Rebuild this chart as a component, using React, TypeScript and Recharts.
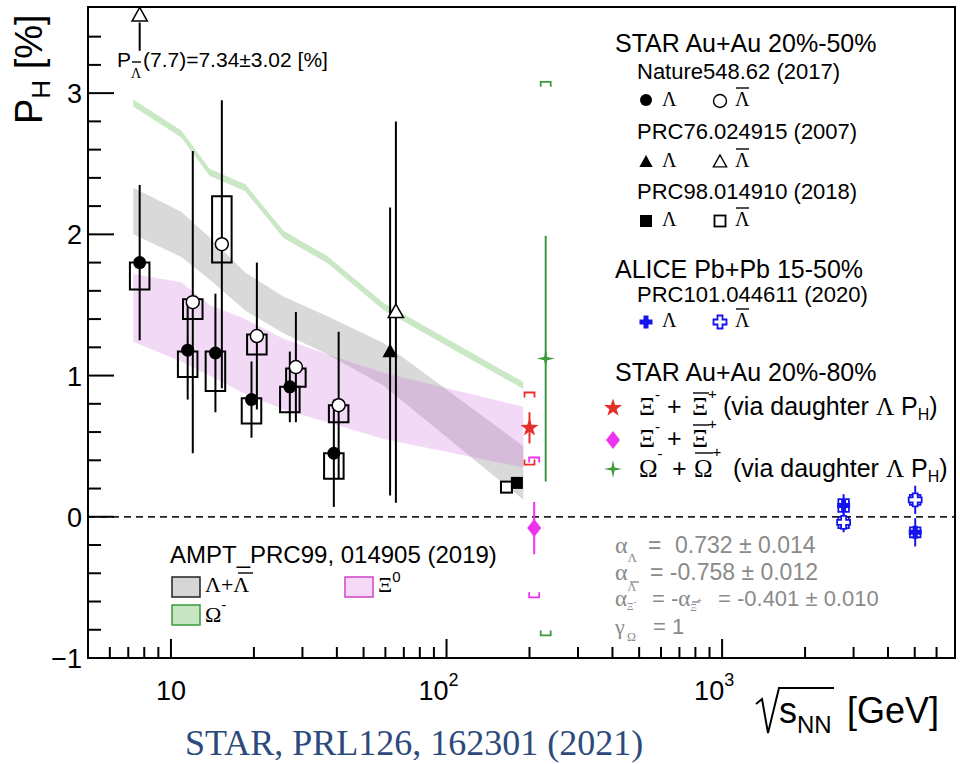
import React from "react";
import {
  ComposedChart,
  Area,
  Scatter,
  ErrorBar,
  XAxis,
  YAxis,
  ReferenceArea,
  ReferenceLine,
} from "recharts";

const W = 960;
const H = 764;
const SANS = "'Liberation Sans', Arial, Helvetica, sans-serif";
const SERIF = "'Liberation Serif', 'Times New Roman', serif";

// AMPT PRC99 bands (drawn slightly left of the STAR energies)
const amptEnergy = [7.3, 10.9, 13.8, 18.6, 25.6, 37, 59, 190];
const amptLamLo = [2.0, 1.84, 1.68, 1.46, 1.3, 1.15, 0.93, 0.12];
const amptLamHi = [2.33, 2.16, 1.98, 1.73, 1.56, 1.42, 1.23, 0.5];
const amptXiLo = [1.24, 1.1, 1.0, 0.87, 0.76, 0.67, 0.55, 0.35];
const amptXiHi = [1.72, 1.66, 1.5, 1.4, 1.26, 1.15, 1.02, 0.78];
const amptOmLo = [2.905, 2.685, 2.415, 2.305, 1.975, 1.795, 1.465, 0.905];
const amptOmHi = [2.955, 2.735, 2.465, 2.355, 2.025, 1.845, 1.515, 0.955];

// STAR Nature 548, 62 (2017)
const lamEnergy = [7.7, 11.5, 14.5, 19.6, 27, 39];
const lamP = [1.8, 1.18, 1.16, 0.83, 0.92, 0.45];
const lamErr = [0.55, 0.35, 0.42, 0.27, 0.25, 0.38];
const lamSysLo = [1.61, 0.99, 0.89, 0.66, 0.74, 0.27];
const lamSysHi = [1.8, 1.17, 1.17, 0.84, 0.92, 0.45];

const alamEnergy = [12.0, 15.3, 20.5, 28.4, 40.6];
const alamP = [1.52, 1.93, 1.28, 1.06, 0.79];
const alamErr = [1.07, 1.02, 0.52, 0.39, 0.52];
const alamSysLo = [1.4, 1.8, 1.15, 0.92, 0.67];
const alamSysHi = [1.54, 2.27, 1.29, 1.05, 0.79];

// STAR PRC76 (2007)
const prc76LamEnergy = [62.4];
const prc76LamP = [1.17];
const prc76LamErr = [1.02];
const prc76AlamEnergy = [65.5];
const prc76AlamP = [1.45];
const prc76AlamErr = [1.35];
// off-scale anti-Lambda at 7.7 GeV: arrow from 3.3 up to the frame
const offEnergy = [7.7];
const offArrowFrom = [3.3];
const offArrowTo = [3.5];
const offMarker = [3.55];

// STAR PRC98 (2018)
const prc98LamEnergy = [180];
const prc98LamP = [0.24];
const prc98AlamEnergy = [165];
const prc98AlamP = [0.21];

// STAR 20-80% multi-strange
const xiDauEnergy = [200];
const xiDauP = [0.63];
const xiDauErr = [0.11];
const xiDauSysLo = [0.37];
const xiDauSysHi = [0.88];

const xiEnergy = [208];
const xiP = [-0.08];
const xiErr = [0.185];
const xiSysLo = [-0.57];
const xiSysHi = [0.42];

const omEnergy = [229];
const omP = [1.12];
const omErr = [0.87];
const omSysLo = [-0.84];
const omSysHi = [3.08];

// ALICE PRC101 (2020)
const aliceEnergy = [2760, 5020];
const aliceLamP = [0.08, -0.11];
const aliceLamErr = [0.08, 0.1];
const aliceLamSys = [0.045, 0.035];
const aliceAlamP = [-0.04, 0.12];
const aliceAlamErr = [0.07, 0.1];
const aliceAlamSys = [0.04, 0.035];

// axes
const yTicks = [-1, -0.8, -0.6, -0.4, -0.2, 0, 0.2, 0.4, 0.6, 0.8, 1, 1.2, 1.4, 1.6, 1.8, 2, 2.2, 2.4, 2.6, 2.8, 3, 3.2, 3.4];
const xTicks = [6, 7, 8, 9, 10, 20, 30, 40, 50, 60, 70, 80, 90, 100, 200, 300, 400, 500, 600, 700, 800, 900, 1000, 2000, 3000, 4000, 5000, 6000];
const xMajor = [10, 100, 1000];
const xMajorBase = ["10", "10", "10"];
const xMajorExp = ["", "2", "3"];

const amptRows = amptEnergy.map((s, i) => ({
  s,
  lam: [amptLamLo[i], amptLamHi[i]],
  xi: [amptXiLo[i], amptXiHi[i]],
  om: [amptOmLo[i], amptOmHi[i]],
}));

const pts = (s: number[], p: number[], e: number[] = []) =>
  s.map((x, i) => ({ s: x, p: p[i], e: e[i] ?? 0 }));

const BOX = 1.085;
const ABOX = 1.045;
const Y_MARGIN = 8;

const mk = (draw: (x: number, y: number) => React.ReactElement) => (p: any) =>
  p.cx == null || p.cy == null ? <g /> : draw(p.cx, p.cy);

const blank = () => <g />;
const filledCircle = mk((x, y) => <circle cx={x} cy={y} r={6.5} fill="#000" />);
const openCircle = mk((x, y) => <circle cx={x} cy={y} r={6.5} fill="#fff" stroke="#000" strokeWidth={1.5} />);
const triPath = (x: number, y: number, r: number) => `M${x},${y - r} L${x + r * 0.95},${y + r * 0.7} L${x - r * 0.95},${y + r * 0.7} Z`;
const filledTri = mk((x, y) => <path d={triPath(x, y, 8)} fill="#000" />);
const openTri = mk((x, y) => <path d={triPath(x, y, 8)} fill="#fff" stroke="#000" strokeWidth={1.5} />);
const filledSquare = mk((x, y) => <rect x={x - 6} y={y - 6} width={12} height={12} fill="#000" />);
const openSquare = mk((x, y) => <rect x={x - 5.5} y={y - 5.5} width={11} height={11} fill="#fff" stroke="#000" strokeWidth={2} />);

const starPath = (x: number, y: number, n: number, R: number, r: number) => {
  let d = "";
  for (let k = 0; k < 2 * n; k++) {
    const rad = k % 2 === 0 ? R : r;
    const a = -Math.PI / 2 + (k * Math.PI) / n;
    d += `${k === 0 ? "M" : "L"}${x + rad * Math.cos(a)},${y + rad * Math.sin(a)} `;
  }
  return d + "Z";
};
const redStar = mk((x, y) => <path d={starPath(x, y, 5, 9.5, 3.8)} fill="#e8302a" />);
const greenStar = mk((x, y) => <path d={starPath(x, y, 4, 9, 2.2)} fill="#3d9a3d" />);
const diamond = mk((x, y) => <path d={`M${x},${y - 9} L${x + 7},${y} L${x},${y + 9} L${x - 7},${y} Z`} fill="#ee33ee" />);
const crossPath = (x: number, y: number, a: number, t: number) =>
  `M${x - t},${y - a} H${x + t} V${y - t} H${x + a} V${y + t} H${x + t} V${y + a} H${x - t} V${y + t} H${x - a} V${y - t} H${x - t} Z`;
const blueCross = mk((x, y) => <path d={crossPath(x, y, 6.5, 2.5)} fill="#1414ee" />);
const blueOpenCross = mk((x, y) => <path d={crossPath(x, y, 6.5, 2.5)} fill="#fff" stroke="#1414ee" strokeWidth={1.8} />);
const bracket = (color: string, up: boolean) =>
  mk((x, y) => (
    <path
      d={up ? `M${x - 5},${y + 5} V${y} H${x + 5} V${y + 5}` : `M${x - 5},${y - 5} V${y} H${x + 5} V${y - 5}`}
      fill="none"
      stroke={color}
      strokeWidth={1.8}
    />
  ));

const YTick = (props: any) => {
  const { x, y, payload } = props;
  const v = payload.value;
  const major = Number.isInteger(v);
  const x0 = x + Y_MARGIN;
  return (
    <g>
      <line x1={x0} x2={x0 + (major ? 26 : 13)} y1={y} y2={y} stroke="#000" strokeWidth={2} />
      {major && (
        <text x={x0 - 6} y={y + 10} textAnchor="end" fontFamily={SANS} fontSize={27} fill="#000">
          {v < 0 ? `\u2212${-v}` : v}
        </text>
      )}
    </g>
  );
};

const XTick = (props: any) => {
  const { x, y, payload } = props;
  const v = payload.value;
  const idx = xMajor.indexOf(v);
  const major = idx >= 0;
  return (
    <g>
      <line x1={x} x2={x} y1={y} y2={y - (major ? 19 : 11)} stroke="#000" strokeWidth={2} />
      {major && xMajorExp[idx] === "" && (
        <text x={x} y={y + 42} textAnchor="middle" fontFamily={SANS} fontSize={27} fill="#000">
          {xMajorBase[idx]}
        </text>
      )}
      {major && xMajorExp[idx] !== "" && (
        <text x={x - 28} y={y + 42} fontFamily={SANS} fontSize={27} fill="#000">
          {xMajorBase[idx]}
          <tspan fontSize={18} dy={-14}>{xMajorExp[idx]}</tspan>
        </text>
      )}
    </g>
  );
};

// overbar for anti-particles
const OB = ({ x, y, w, color = "#000" }: any) => (
  <line x1={x} x2={x + w} y1={y} y2={y} stroke={color} strokeWidth={1.4} />
);

function Overlay() {
  const g = "#8a8a8a";
  return (
    <svg width={W} height={H} style={{ position: "absolute", left: 0, top: 0, pointerEvents: "none" }}>
      <rect x={88} y={7} width={867} height={651} fill="none" stroke="#000" strokeWidth={2} />

      {/* y title */}
      <text transform="translate(42,124) rotate(-90)" fontFamily={SANS} fontSize={38} fill="#000">
        P<tspan fontSize={26} dy={8}>H</tspan>
        <tspan dy={-8}> [%]</tspan>
      </text>

      {/* x title */}
      <path d="M756,704 L762,699 L768,733 L779,688 L834,688" fill="none" stroke="#000" strokeWidth={2} />
      <text x={779} y={723} fontFamily={SANS} fontSize={36} fill="#000">
        s<tspan fontSize={24} dy={10}>NN</tspan>
        <tspan x={847} dy={-10}>[GeV]</tspan>
      </text>

      {/* off-scale note */}
      <text x={117} y={67} fontFamily={SANS} fontSize={21} fill="#000">
        P<tspan fontFamily={SERIF} fontSize={14} dy={11}>Λ</tspan>
        <tspan x={143} dy={-11}>(7.7)=7.34±3.02 [%]</tspan>
      </text>
      <OB x={132} y={62} w={9} />

      {/* legend: STAR 20-50% */}
      <g fontFamily={SANS} fill="#000">
        <text x={615} y={52} fontSize={25}>STAR Au+Au 20%-50%</text>
        <text x={637} y={79} fontSize={22}>Nature548.62 (2017)</text>
        <text x={637} y={139} fontSize={22}>PRC76.024915 (2007)</text>
        <text x={637} y={199} fontSize={22}>PRC98.014910 (2018)</text>
        <text x={615} y={278} fontSize={25}>ALICE Pb+Pb 15-50%</text>
        <text x={637} y={302} fontSize={22}>PRC101.044611 (2020)</text>
        <text x={615} y={381} fontSize={25}>STAR Au+Au 20%-80%</text>
      </g>
      <g fontFamily={SERIF} fontSize={20} fill="#000">
        <circle cx={646} cy={100} r={6} fill="#000" />
        <text x={662} y={106}>Λ<tspan x={735}>Λ</tspan></text>
        <circle cx={720} cy={101} r={6.5} fill="none" stroke="#000" strokeWidth={1.4} />
        <OB x={736} y={88} w={13} />

        <path d={triPath(646, 162, 7)} fill="#000" />
        <text x={662} y={167}>Λ<tspan x={735}>Λ</tspan></text>
        <path d={triPath(720, 162, 7)} fill="none" stroke="#000" strokeWidth={1.4} />
        <OB x={736} y={149} w={13} />

        <rect x={640} y={215} width={12} height={12} fill="#000" />
        <text x={662} y={226}>Λ<tspan x={735}>Λ</tspan></text>
        <rect x={714.5} y={215.5} width={11} height={11} fill="none" stroke="#000" strokeWidth={1.8} />
        <OB x={736} y={208} w={13} />

        <path d={crossPath(646, 322, 6.5, 2.5)} fill="#1414ee" />
        <text x={662} y={327}>Λ<tspan x={735}>Λ</tspan></text>
        <path d={crossPath(720, 322, 6.5, 2.5)} fill="#fff" stroke="#1414ee" strokeWidth={1.8} />
        <OB x={736} y={309} w={13} />
      </g>

      {/* STAR 20-80% rows */}
      <path d={starPath(613, 408, 5, 9.5, 3.8)} fill="#e8302a" />
      <text x={639} y={415} fontFamily={SERIF} fontSize={25} fill="#000">
        Ξ<tspan fontFamily={SANS} fontSize={15} dy={-15}>-</tspan>
        <tspan x={667} dy={15} fontFamily={SANS}>+</tspan>
        <tspan x={692}>Ξ</tspan>
        <tspan fontFamily={SANS} fontSize={15} dy={-16}>+</tspan>
        <tspan x={723} dy={16} fontFamily={SANS}>(via daughter </tspan>
        <tspan>Λ</tspan>
        <tspan fontFamily={SANS}> P</tspan>
        <tspan fontFamily={SANS} fontSize={16} dy={5}>H</tspan>
        <tspan fontFamily={SANS} dy={-5}>)</tspan>
      </text>
      <OB x={693} y={393} w={16} />

      <path d="M613,431 L620,440 L613,449 L606,440 Z" fill="#ee33ee" />
      <text x={639} y={447} fontFamily={SERIF} fontSize={25} fill="#000">
        Ξ<tspan fontFamily={SANS} fontSize={15} dy={-15}>-</tspan>
        <tspan x={667} dy={15} fontFamily={SANS}>+</tspan>
        <tspan x={692}>Ξ</tspan>
        <tspan fontFamily={SANS} fontSize={15} dy={-18}>+</tspan>
      </text>
      <OB x={693} y={425} w={16} />

      <path d={starPath(613, 469, 4, 9, 2.2)} fill="#3d9a3d" />
      <text x={639} y={477} fontFamily={SERIF} fontSize={25} fill="#000">
        Ω<tspan fontFamily={SANS} fontSize={15} dy={-18}>-</tspan>
        <tspan x={672} dy={18} fontFamily={SANS}>+</tspan>
        <tspan x={694}>Ω</tspan>
        <tspan fontFamily={SANS} fontSize={15} dy={-20}>+</tspan>
        <tspan x={733} dy={20} fontFamily={SANS}>(via daughter </tspan>
        <tspan>Λ</tspan>
        <tspan fontFamily={SANS}> P</tspan>
        <tspan fontFamily={SANS} fontSize={16} dy={5}>H</tspan>
        <tspan fontFamily={SANS} dy={-5}>)</tspan>
      </text>
      <OB x={695} y={453} w={18} />

      {/* decay parameters */}
      <g fill={g}>
        <text x={615} y={553} fontFamily={SERIF} fontSize={24}>
          α<tspan fontSize={13} dy={9}>Λ</tspan>
          <tspan x={648} dy={-9} fontFamily={SANS} fontSize={23}>=</tspan>
          <tspan x={675} fontFamily={SANS} fontSize={23}>0.732 ± 0.014</tspan>
        </text>
        <text x={615} y={580} fontFamily={SERIF} fontSize={24}>
          α<tspan fontSize={12} dy={11}>Λ</tspan>
          <tspan x={650} dy={-11} fontFamily={SANS} fontSize={23}>= -0.758 ± 0.012</tspan>
        </text>
        <OB x={630} y={582} w={9} color={g} />
        <text x={615} y={606} fontFamily={SERIF} fontSize={23}>
          α<tspan fontSize={10} dy={4}>Ξ</tspan>
          <tspan fontFamily={SANS} fontSize={9} dy={-5}>-</tspan>
          <tspan x={652} dy={1} fontFamily={SANS} fontSize={22}>= -</tspan>
          <tspan>α</tspan>
          <tspan fontSize={10} dy={5}>Ξ</tspan>
          <tspan fontFamily={SANS} fontSize={9} dy={-7}>+</tspan>
          <tspan x={718} dy={2} fontFamily={SANS} fontSize={22}>= -0.401 ± 0.010</tspan>
        </text>
        <OB x={692} y={602} w={7} color={g} />
        <text x={615} y={634} fontFamily={SERIF} fontSize={22}>
          γ<tspan x={627} fontSize={12} dy={7}>Ω</tspan>
          <tspan x={653} dy={-7} fontFamily={SANS} fontSize={22}>= 1</tspan>
        </text>
      </g>

      {/* AMPT legend */}
      <text x={170} y={563} fontFamily={SANS} fontSize={24} fill="#000">AMPT_PRC99, 014905 (2019)</text>
      <rect x={172} y={577} width={28} height={20} fill="#d6d6d6" stroke="#222" strokeWidth={1.5} />
      <text x={205} y={592} fontFamily={SERIF} fontSize={22} fill="#000">Λ+Λ</text>
      <OB x={238} y={573} w={15} />
      <rect x={345} y={577} width={28} height={20} fill="#f5d9f7" stroke="#cc44cc" strokeWidth={1.5} />
      <text x={378} y={592} fontFamily={SERIF} fontSize={22} fill="#000">
        Ξ<tspan fontFamily={SANS} fontSize={15} dy={-10}>0</tspan>
      </text>
      <rect x={172} y={605} width={28} height={20} fill="#c9e6c4" stroke="#3a9a3a" strokeWidth={1.5} />
      <text x={205} y={622} fontFamily={SERIF} fontSize={22} fill="#000">
        Ω<tspan fontFamily={SANS} fontSize={15} dy={-12}>-</tspan>
      </text>

      {/* reference */}
      <text x={185} y={755} fontFamily={SERIF} fontSize={36} fill="#2c4a7c">STAR, PRL126, 162301 (2021)</text>
    </svg>
  );
}

export default function App() {
  return (
    <div style={{ position: "absolute", left: 0, top: 0, width: W, height: H, background: "#fff" }}>
      <ComposedChart width={W} height={H} data={amptRows} margin={{ top: 7, right: 5, bottom: 0, left: 0 }}>
        <XAxis
          dataKey="s"
          type="number"
          scale="log"
          domain={[5, 7000]}
          allowDataOverflow
          ticks={xTicks}
          interval={0}
          tick={<XTick />}
          tickLine={false}
          axisLine={false}
          tickSize={0}
          tickMargin={0}
          height={106}
        />
        <YAxis
          dataKey="p"
          type="number"
          domain={[-1, 3.61]}
          allowDataOverflow
          ticks={yTicks}
          interval={0}
          tick={<YTick />}
          tickLine={false}
          axisLine={false}
          tickSize={0}
          tickMargin={Y_MARGIN}
          width={88}
        />

        <Area dataKey="lam" type="linear" stroke="none" fill="#000" fillOpacity={0.15} isAnimationActive={false} />
        <Area dataKey="xi" type="linear" stroke="none" fill="#cc66dd" fillOpacity={0.25} isAnimationActive={false} />
        <Area dataKey="om" type="linear" stroke="none" fill="#cbe8c6" fillOpacity={1} isAnimationActive={false} />

        <ReferenceLine y={0} stroke="#222" strokeWidth={1.8} strokeDasharray="7 5" />

        {lamEnergy.map((s, i) => (
          <ReferenceArea key={`lb${i}`} x1={s / BOX} x2={s * BOX} y1={lamSysLo[i]} y2={lamSysHi[i]} fill="none" fillOpacity={0} stroke="#000" strokeWidth={2} ifOverflow="visible" />
        ))}
        {alamEnergy.map((s, i) => (
          <ReferenceArea key={`ab${i}`} x1={s / BOX} x2={s * BOX} y1={alamSysLo[i]} y2={alamSysHi[i]} fill="none" fillOpacity={0} stroke="#000" strokeWidth={2} ifOverflow="visible" />
        ))}
        {aliceEnergy.map((s, i) => (
          <ReferenceArea key={`cl${i}`} x1={s / ABOX} x2={s * ABOX} y1={aliceLamP[i] - aliceLamSys[i]} y2={aliceLamP[i] + aliceLamSys[i]} fill="none" fillOpacity={0} stroke="#1414ee" strokeWidth={1.8} ifOverflow="visible" />
        ))}
        {aliceEnergy.map((s, i) => (
          <ReferenceArea key={`ca${i}`} x1={s / ABOX} x2={s * ABOX} y1={aliceAlamP[i] - aliceAlamSys[i]} y2={aliceAlamP[i] + aliceAlamSys[i]} fill="none" fillOpacity={0} stroke="#1414ee" strokeWidth={1.8} ifOverflow="visible" />
        ))}
        {offEnergy.map((s, i) => (
          <ReferenceLine key={`off${i}`} segment={[{ x: s, y: offArrowFrom[i] }, { x: s, y: offArrowTo[i] }]} stroke="#000" strokeWidth={2} ifOverflow="visible" />
        ))}

        {/* error bars first, markers on top */}
        <Scatter data={pts(lamEnergy, lamP, lamErr)} shape={blank} isAnimationActive={false}>
          <ErrorBar dataKey="e" direction="y" width={0} stroke="#000" strokeWidth={2} />
        </Scatter>
        <Scatter data={pts(alamEnergy, alamP, alamErr)} shape={blank} isAnimationActive={false}>
          <ErrorBar dataKey="e" direction="y" width={0} stroke="#000" strokeWidth={2} />
        </Scatter>
        <Scatter data={pts(prc76LamEnergy, prc76LamP, prc76LamErr)} shape={blank} isAnimationActive={false}>
          <ErrorBar dataKey="e" direction="y" width={0} stroke="#000" strokeWidth={2} />
        </Scatter>
        <Scatter data={pts(prc76AlamEnergy, prc76AlamP, prc76AlamErr)} shape={blank} isAnimationActive={false}>
          <ErrorBar dataKey="e" direction="y" width={0} stroke="#000" strokeWidth={2} />
        </Scatter>
        <Scatter data={pts(xiDauEnergy, xiDauP, xiDauErr)} shape={blank} isAnimationActive={false}>
          <ErrorBar dataKey="e" direction="y" width={0} stroke="#e8302a" strokeWidth={2} />
        </Scatter>
        <Scatter data={pts(xiEnergy, xiP, xiErr)} shape={blank} isAnimationActive={false}>
          <ErrorBar dataKey="e" direction="y" width={0} stroke="#ee33ee" strokeWidth={2} />
        </Scatter>
        <Scatter data={pts(omEnergy, omP, omErr)} shape={blank} isAnimationActive={false}>
          <ErrorBar dataKey="e" direction="y" width={0} stroke="#3d9a3d" strokeWidth={2} />
        </Scatter>
        <Scatter data={pts(aliceEnergy, aliceLamP, aliceLamErr)} shape={blank} isAnimationActive={false}>
          <ErrorBar dataKey="e" direction="y" width={0} stroke="#1414ee" strokeWidth={2} />
        </Scatter>
        <Scatter data={pts(aliceEnergy, aliceAlamP, aliceAlamErr)} shape={blank} isAnimationActive={false}>
          <ErrorBar dataKey="e" direction="y" width={0} stroke="#1414ee" strokeWidth={2} />
        </Scatter>

        {/* systematic brackets */}
        <Scatter data={pts(xiDauEnergy, xiDauSysHi)} shape={bracket("#e8302a", true)} isAnimationActive={false} />
        <Scatter data={pts(xiDauEnergy, xiDauSysLo)} shape={bracket("#e8302a", false)} isAnimationActive={false} />
        <Scatter data={pts(xiEnergy, xiSysHi)} shape={bracket("#ee33ee", true)} isAnimationActive={false} />
        <Scatter data={pts(xiEnergy, xiSysLo)} shape={bracket("#ee33ee", false)} isAnimationActive={false} />
        <Scatter data={pts(omEnergy, omSysHi)} shape={bracket("#3d9a3d", true)} isAnimationActive={false} />
        <Scatter data={pts(omEnergy, omSysLo)} shape={bracket("#3d9a3d", false)} isAnimationActive={false} />

        {/* markers */}
        <Scatter data={pts(lamEnergy, lamP)} shape={filledCircle} isAnimationActive={false} />
        <Scatter data={pts(alamEnergy, alamP)} shape={openCircle} isAnimationActive={false} />
        <Scatter data={pts(prc76LamEnergy, prc76LamP)} shape={filledTri} isAnimationActive={false} />
        <Scatter data={pts(prc76AlamEnergy, prc76AlamP)} shape={openTri} isAnimationActive={false} />
        <Scatter data={pts(offEnergy, offMarker)} shape={openTri} isAnimationActive={false} />
        <Scatter data={pts(prc98AlamEnergy, prc98AlamP)} shape={openSquare} isAnimationActive={false} />
        <Scatter data={pts(prc98LamEnergy, prc98LamP)} shape={filledSquare} isAnimationActive={false} />
        <Scatter data={pts(xiDauEnergy, xiDauP)} shape={redStar} isAnimationActive={false} />
        <Scatter data={pts(xiEnergy, xiP)} shape={diamond} isAnimationActive={false} />
        <Scatter data={pts(omEnergy, omP)} shape={greenStar} isAnimationActive={false} />
        <Scatter data={pts(aliceEnergy, aliceLamP)} shape={blueCross} isAnimationActive={false} />
        <Scatter data={pts(aliceEnergy, aliceAlamP)} shape={blueOpenCross} isAnimationActive={false} />
      </ComposedChart>
      <Overlay />
    </div>
  );
}
